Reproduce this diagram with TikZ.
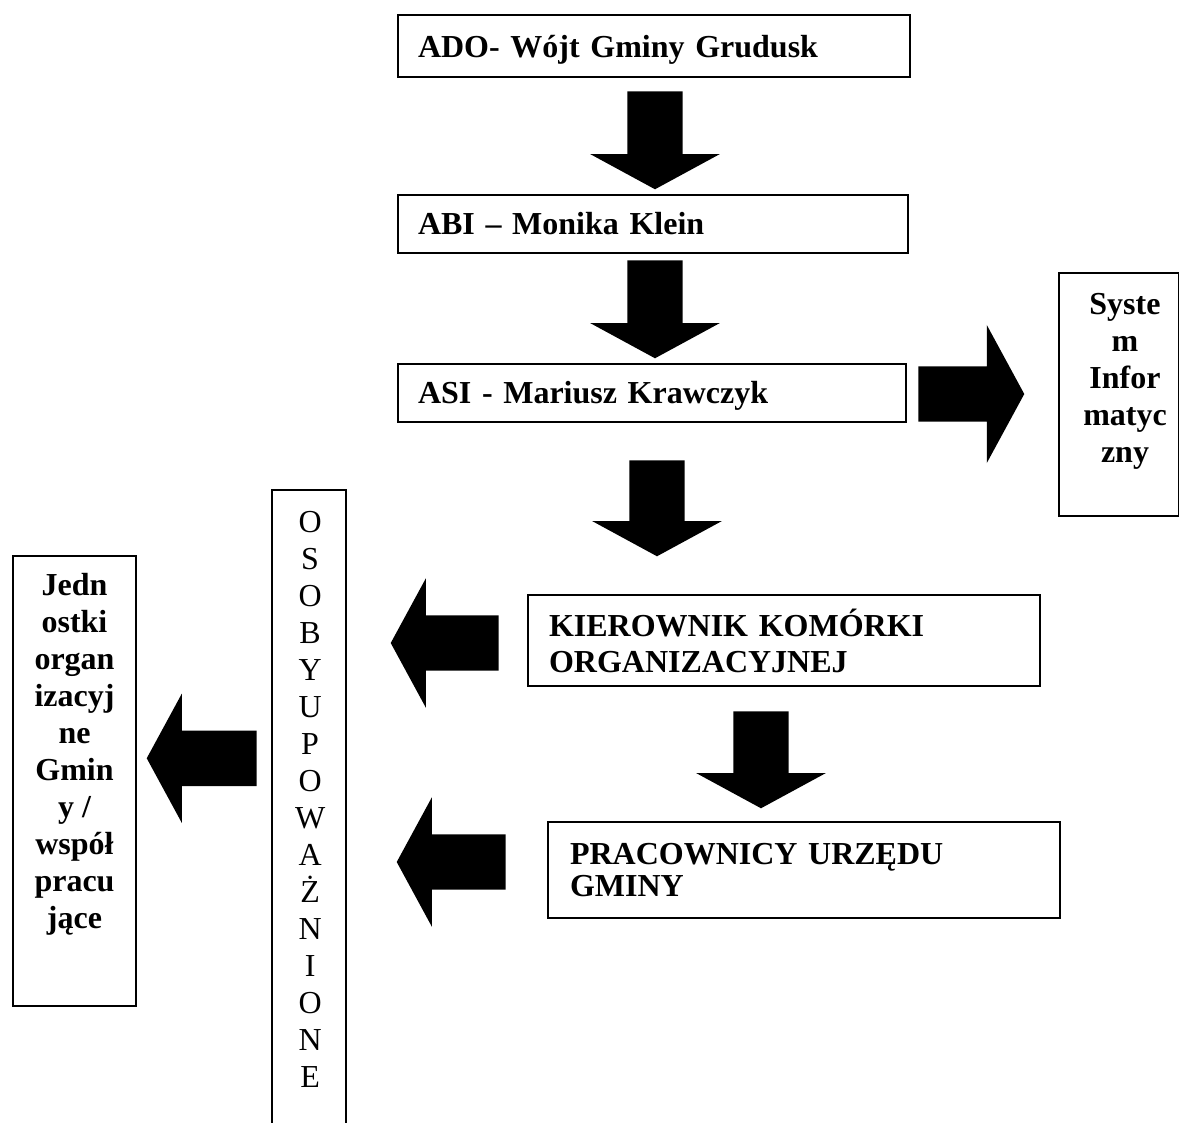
\documentclass[tikz,border=0pt]{standalone}
\usepackage{fontspec}
\setmainfont{Liberation Serif}
\usetikzlibrary{shapes.arrows,calc}

\begin{document}
\begin{tikzpicture}[x=0.75pt,y=-0.75pt,
  font=\fontsize{24}{27.75}\selectfont,
  box/.style={draw,line width=1.5pt,inner xsep=15pt,inner ysep=0pt,align=left,
    font=\fontsize{24}{27}\selectfont\bfseries},
  tallbox/.style={draw,line width=1.5pt,inner sep=0pt,anchor=north west,
    font=\fontsize{24}{27.75}\selectfont\bfseries},
  blk/.style={single arrow,fill=black,draw=none,inner sep=20.6pt,
    single arrow head extend=27.75pt,single arrow tip angle=123,
    minimum height=73.5pt,anchor=tail},
  blkdown/.style={blk,shape border rotate=270},
  blkleft/.style={blk,shape border rotate=180,minimum height=81pt},
  blkright/.style={blk,shape border rotate=0,minimum height=79.5pt}]
  \useasboundingbox (0,0) rectangle (1179,1122);
  % chain of boxes
  \node[box,text width=354pt,minimum height=46.5pt,text height=17pt,text depth=0pt](ado) at (654,46){ADO- Wójt Gminy Grudusk};
  \node[box,text width=352.5pt,minimum height=43.5pt](abi) at (653,224){ABI – Monika Klein};
  \node[box,text width=351pt,minimum height=43.5pt,text height=16pt,text depth=0pt](asi) at (652,393){ASI - Mariusz Krawczyk};
  \node[box,inner xsep=15.75pt,text width=352.5pt,minimum height=68.25pt](kier) at (784,640.5){KIEROWNIK KOMÓRKI\\ORGANIZACYJNEJ};
  \node[box,inner xsep=16.5pt,text width=351pt,minimum height=72pt,
    font=\fontsize{24}{24}\selectfont\bfseries](prac) at (804,870){PRACOWNICY URZĘDU\\GMINY};
  \node[tallbox](sys) at (1058,272){\parbox[t][182.25pt][t]{90pt}{\centering\leftskip=9pt plus 1fil\vspace*{15pt}%
    Syste\\m\\Infor\\matyc\\zny}};
  \node[tallbox](jedn) at (12,555){\parbox[t][337.5pt][t]{92.25pt}{\centering\vspace*{13pt}%
    Jedn\\ostki\\organ\\izacyj\\ne\\Gmin\\y /\\współ\\pracu\\jące}};
  % open at the bottom, so only three sides
  \node[inner sep=0pt,anchor=north west](osoby) at (272,490){\parbox[t][474pt][t]{54.75pt}{\centering\leftskip=2pt plus 1fil\vspace*{16pt}%
    O\\S\\O\\B\\Y\\U\\P\\O\\W\\A\\Ż\\N\\I\\O\\N\\E}};
  \draw[line width=1.5pt](osoby.south west)|-(osoby.north east)--(osoby.south east);
  % block arrows
  \node[blkdown](a1) at ($(ado.south)+(1,13)$){};
  \node[blkdown](a2) at ($(abi.south)+(2,6)$){};
  \node[blkright,single arrow head extend=31pt](a3) at ($(asi.east)+(11,1)$){};
  \node[blkdown,minimum height=72pt](a4) at ($(asi.south)+(5,37)$){};
  \node[blkleft](a5) at ($(kier.west)+(-28,2.5)$){};
  \node[blkdown,minimum height=72.75pt](a6) at ($(kier.south)+(-23,24)$){};
  \node[blkleft,minimum height=81.75pt](a7) at ($(prac.west)+(-41,-8)$){};
  \node[blkleft,minimum height=82.5pt](a8) at ($(osoby.west)+(-15,-48)$){};
\end{tikzpicture}
\end{document}
